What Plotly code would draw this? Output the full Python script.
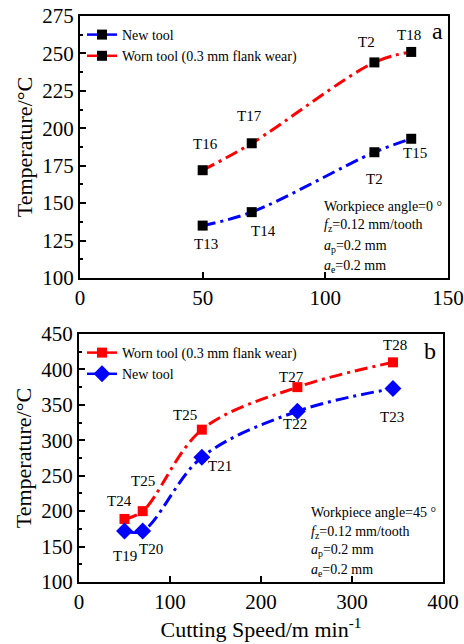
import plotly.graph_objects as go

# ---------------- data ----------------
speed_a = [50, 70, 120, 135]
new_a = [135, 144, 184, 193]
worn_a = [172, 190, 244, 251]
new_a_labels = ["T13", "T14", "T2", "T15"]
worn_a_labels = ["T16", "T17", "T2", "T18"]

speed_b = [50, 70, 135, 240, 345]
worn_b = [189, 200, 315, 375, 410]
new_b = [172, 172, 276, 341, 373]
worn_b_labels = ["T24", "T25", "T25", "T27", "T28"]
new_b_labels = ["T19", "T20", "T21", "T22", "T23"]

series_names = ["New tool", "Worn tool (0.3 mm flank wear)"]

# ---------------- label offsets (px: dx right, dy down) ----------------
off_worn_a = [(3, -26), (-2, -27), (-8, -20), (-2, -17)]
off_new_a = [(3, 18), (12, 19), (0, 27), (4, 14)]
off_worn_b = [(-5, -18), (0, -30), (-17, -15), (-6, -10), (2, -17)]
off_new_b = [(0, 25), (8, 18), (18, 9), (-2, 13), (-1, 28)]

FONT = "Liberation Serif, Times New Roman, serif"
RED = "#ff0000"
BLUE = "#0000ff"
DASH = "13px,5px,3px,5px"

W, H = 464, 644
L, R, T, B = 79, 16, 16, 62
PW = W - L - R
PH = H - T - B


def px_x(p):
    return (p - L) / PW


def px_y(p):
    return (H - B - p) / PH


fig = go.Figure()

# ---- panel a curves ----
fig.add_trace(go.Scatter(x=speed_a, y=new_a, mode="lines+markers", line=dict(color=BLUE, width=3, dash=DASH, shape="spline"),
                         marker=dict(symbol="square", size=10, color="black"), showlegend=False, xaxis="x", yaxis="y"))
fig.add_trace(go.Scatter(x=speed_a, y=worn_a, mode="lines+markers", line=dict(color=RED, width=3, dash=DASH, shape="spline"),
                         marker=dict(symbol="square", size=10, color="black"), showlegend=False, xaxis="x", yaxis="y"))
# legend entries a
fig.add_trace(go.Scatter(x=[None], y=[None], mode="lines+markers", name=series_names[0], line=dict(color=BLUE, width=2.5),
                         marker=dict(symbol="square", size=10, color="black"), legend="legend", xaxis="x", yaxis="y"))
fig.add_trace(go.Scatter(x=[None], y=[None], mode="lines+markers", name=series_names[1], line=dict(color=RED, width=2.5),
                         marker=dict(symbol="square", size=10, color="black"), legend="legend", xaxis="x", yaxis="y"))

# ---- panel b curves ----
fig.add_trace(go.Scatter(x=speed_b, y=worn_b, mode="lines+markers", line=dict(color=RED, width=3, dash=DASH, shape="spline"),
                         marker=dict(symbol="square", size=10, color=RED), showlegend=False, xaxis="x2", yaxis="y2"))
fig.add_trace(go.Scatter(x=speed_b, y=new_b, mode="lines+markers", line=dict(color=BLUE, width=3, dash=DASH, shape="spline"),
                         marker=dict(symbol="diamond", size=13, color=BLUE), showlegend=False, xaxis="x2", yaxis="y2"))
fig.add_trace(go.Scatter(x=[None], y=[None], mode="lines+markers", name=series_names[1], line=dict(color=RED, width=2.5),
                         marker=dict(symbol="square", size=10, color=RED), legend="legend2", xaxis="x2", yaxis="y2"))
fig.add_trace(go.Scatter(x=[None], y=[None], mode="lines+markers", name=series_names[0], line=dict(color=BLUE, width=2.5),
                         marker=dict(symbol="diamond", size=13, color=BLUE), legend="legend2", xaxis="x2", yaxis="y2"))

annotations = []


def add_labels(xs, ys, labels, offs, xr, yr):
    for xv, yv, lab, (dx, dy) in zip(xs, ys, labels, offs):
        annotations.append(dict(x=xv, y=yv, xref=xr, yref=yr, text=lab, showarrow=False,
                                xanchor="center", yanchor="middle",
                                xshift=dx, yshift=-dy, font=dict(family=FONT, size=15, color="black")))


add_labels(speed_a, new_a, new_a_labels, off_new_a, "x", "y")
add_labels(speed_a, worn_a, worn_a_labels, off_worn_a, "x", "y")
add_labels(speed_b, worn_b, worn_b_labels, off_worn_b, "x2", "y2")
add_labels(speed_b, new_b, new_b_labels, off_new_b, "x2", "y2")

# info blocks
info_a = ["Workpiece angle=0 °", "<i>f</i><sub>z</sub>=0.12 mm/tooth", "<i>a</i><sub>p</sub>=0.2 mm", "<i>a</i><sub>e</sub>=0.2 mm"]
info_b = ["Workpiece angle=45 °", "<i>f</i><sub>z</sub>=0.12 mm/tooth", "<i>a</i><sub>p</sub>=0.2 mm", "<i>a</i><sub>e</sub>=0.2 mm"]
ya = [207, 226, 246, 266]
yb = [512, 532, 550, 570]
for txt, py in zip(info_a, ya):
    annotations.append(dict(x=px_x(322), y=px_y(py), xref="paper", yref="paper", text=txt, showarrow=False,
                            xanchor="left", yanchor="middle", font=dict(family=FONT, size=14, color="black")))
for txt, py in zip(info_b, yb):
    annotations.append(dict(x=px_x(309), y=px_y(py), xref="paper", yref="paper", text=txt, showarrow=False,
                            xanchor="left", yanchor="middle", font=dict(family=FONT, size=14, color="black")))

annotations.append(dict(x=px_x(437), y=px_y(31), xref="paper", yref="paper", text="a", showarrow=False,
                        xanchor="center", yanchor="middle", font=dict(family=FONT, size=24, color="black")))
annotations.append(dict(x=px_x(430), y=px_y(351), xref="paper", yref="paper", text="b", showarrow=False,
                        xanchor="center", yanchor="middle", font=dict(family=FONT, size=24, color="black")))

axis_common = dict(showline=True, linecolor="black", linewidth=2, mirror=True, ticks="inside", ticklen=6,
                   tickwidth=1.5, tickcolor="black", showgrid=False, zeroline=False, automargin=False,
                   tickfont=dict(family=FONT, size=21, color="black"))

fig.update_layout(
    width=W, height=H,
    margin=dict(l=L, r=R, t=T, b=B, autoexpand=False),
    paper_bgcolor="white", plot_bgcolor="white",
    font=dict(family=FONT, color="black"),
    xaxis=dict(domain=[px_x(80), 1], range=[0, 150], dtick=50, anchor="y", **axis_common),
    yaxis=dict(domain=[px_y(278), 1], range=[100, 275], dtick=25, anchor="x",
               minor=dict(dtick=12.5, ticks="inside", ticklen=3, tickcolor="black"),
               title=dict(text="Temperature/°C", font=dict(family=FONT, size=22), standoff=4), **axis_common),
    xaxis2=dict(domain=[0, px_x(443)], range=[0, 400], dtick=100, anchor="y2",
                title=dict(text="Cutting Speed/m min<sup>-1</sup>", font=dict(family=FONT, size=22), standoff=6),
                **axis_common),
    yaxis2=dict(domain=[0, px_y(334)], range=[100, 450], dtick=50, anchor="x2",
                minor=dict(dtick=25, ticks="inside", ticklen=3, tickcolor="black"),
                title=dict(text="Temperature/°C", font=dict(family=FONT, size=22), standoff=4), **axis_common),
    legend=dict(x=px_x(82), y=px_y(19), xanchor="left", yanchor="top", bgcolor="rgba(0,0,0,0)",
                font=dict(family=FONT, size=14, color="black"), tracegroupgap=0, itemwidth=30),
    legend2=dict(x=px_x(82), y=px_y(337), xanchor="left", yanchor="top", bgcolor="rgba(0,0,0,0)",
                 font=dict(family=FONT, size=14, color="black"), tracegroupgap=0, itemwidth=30),
    annotations=annotations,
)

fig.write_html("out.html")
